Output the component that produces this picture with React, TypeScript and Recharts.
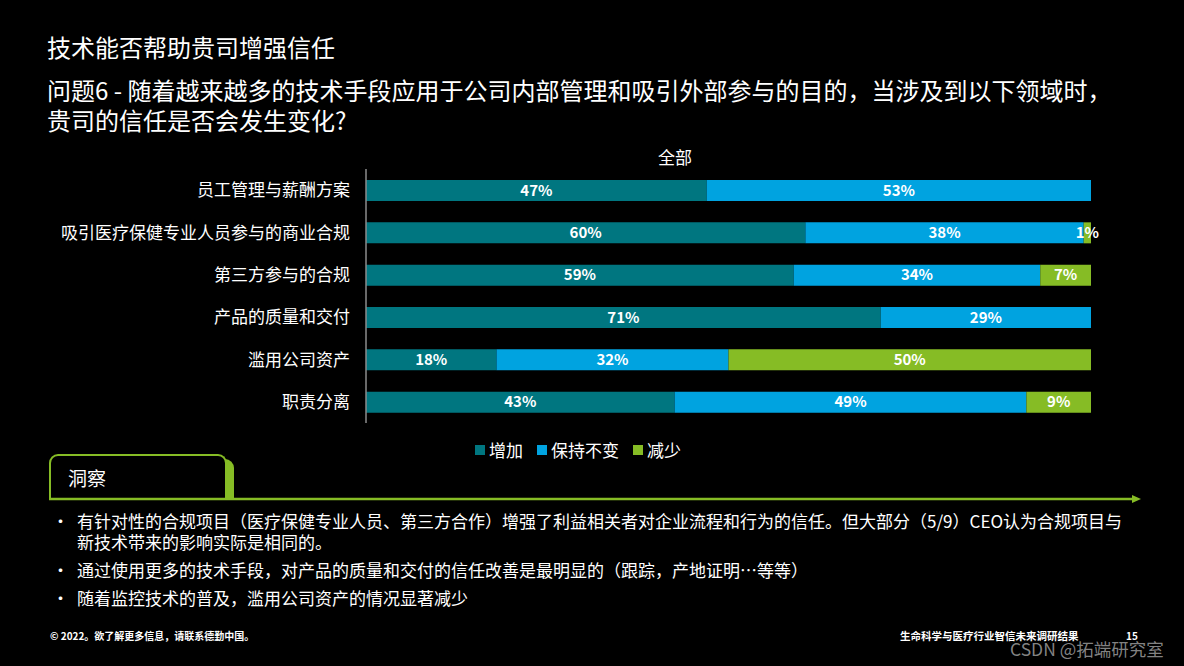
import React from 'react';
import { BarChart, Bar, XAxis, YAxis, LabelList } from 'recharts';

const categories = ['员工管理与薪酬方案', '吸引医疗保健专业人员参与的商业合规', '第三方参与的合规', '产品的质量和交付', '滥用公司资产', '职责分离'];
const increase = [47, 60, 59, 71, 18, 43];
const unchanged = [53, 38, 34, 29, 32, 49];
const decrease = [0, 1, 7, 0, 50, 9];

const seriesNames = ['增加', '保持不变', '减少'];
const colors = ['#007680', '#00A3E0', '#86BC25'];

const bullets = [
  '有针对性的合规项目（医疗保健专业人员、第三方合作）增强了利益相关者对企业流程和行为的信任。但大部分（5/9）CEO认为合规项目与新技术带来的影响实际是相同的。',
  '通过使用更多的技术手段，对产品的质量和交付的信任改善是最明显的（跟踪，产地证明…等等）',
  '随着监控技术的普及，滥用公司资产的情况显著减少',
];

const data = categories.map((name, i) => ({
  name,
  inc: increase[i],
  same: unchanged[i],
  dec: decrease[i],
}));

const font = '"Noto Sans CJK SC", "Noto Sans", sans-serif';
const pct = (v: any) => (v ? `${v}%` : '');

export default function App() {
  const labelStyle = { fill: '#fff', fontSize: 15, fontWeight: 600 };
  return (
    <div style={{ position: 'fixed', left: 0, top: 0, width: 1184, height: 666, background: '#000', color: '#fff', fontFamily: font, overflow: 'hidden' }}>
      <div style={{ position: 'absolute', left: 47, top: 32, fontSize: 24, lineHeight: '30px' }}>技术能否帮助贵司增强信任</div>
      <div style={{ position: 'absolute', left: 47, top: 75, fontSize: 24, lineHeight: '30px', width: 1120 }}>
        问题6 - 随着越来越多的技术手段应用于公司内部管理和吸引外部参与的目的，当涉及到以下领域时，<br />贵司的信任是否会发生变化?
      </div>
      <div style={{ position: 'absolute', left: 625, width: 100, textAlign: 'center', top: 145, fontSize: 17, lineHeight: '24px' }}>全部</div>

      <div style={{ position: 'absolute', left: 0, top: 1 }}>
        <BarChart width={1100} height={440} data={data} layout="vertical" stackOffset="expand" barSize={21}
          margin={{ top: 168, right: 9, bottom: 18, left: 0 }}>
          <XAxis type="number" hide domain={[0, 1]} />
          <YAxis type="category" dataKey="name" width={366} tickLine={false} tickSize={0} tickMargin={16}
            axisLine={{ stroke: '#8c8c8c', strokeWidth: 1.5 }}
            tick={{ fill: '#fff', fontSize: 17, fontFamily: font }} interval={0} />
          <Bar dataKey="inc" stackId="a" fill={colors[0]} isAnimationActive={false}>
            <LabelList dataKey="inc" position="center" formatter={pct} style={labelStyle} />
          </Bar>
          <Bar dataKey="same" stackId="a" fill={colors[1]} isAnimationActive={false}>
            <LabelList dataKey="same" position="center" formatter={pct} style={labelStyle} />
          </Bar>
          <Bar dataKey="dec" stackId="a" fill={colors[2]} isAnimationActive={false}>
            <LabelList dataKey="dec" position="center" formatter={pct} style={labelStyle} />
          </Bar>
        </BarChart>
      </div>

      <div style={{ position: 'absolute', left: 475, top: 439, display: 'flex', fontSize: 17, lineHeight: '22px' }}>
        {seriesNames.map((n, i) => (
          <div key={n} style={{ display: 'flex', alignItems: 'center', marginRight: 14 }}>
            <span style={{ width: 10, height: 10, background: colors[i], marginRight: 4 }} />
            <span>{n}</span>
          </div>
        ))}
      </div>

      {/* insight tab */}
      <div style={{ position: 'absolute', left: 56, top: 459, width: 178, height: 40, background: '#86BC25', borderTopLeftRadius: 9, borderTopRightRadius: 9 }} />
      <div style={{ position: 'absolute', left: 49, top: 454, width: 174, height: 42, background: '#000', border: '2px solid #86BC25', borderBottom: 'none', borderTopLeftRadius: 9, borderTopRightRadius: 9 }} />
      <div style={{ position: 'absolute', left: 68, top: 465, fontSize: 19, lineHeight: '26px' }}>洞察</div>
      <svg style={{ position: 'absolute', left: 0, top: 490 }} width={1184} height={20}>
        <line x1={49} y1={9} x2={1134} y2={9} stroke="#86BC25" strokeWidth={2.5} />
        <polygon points="1132,5 1141,9 1132,13" fill="#86BC25" />
      </svg>

      <div style={{ position: 'absolute', left: 52, top: 510, width: 1080, fontSize: 17, lineHeight: '21px' }}>
        {bullets.map((b, i) => (
          <div key={i} style={{ display: 'flex', marginBottom: 7 }}>
            <span style={{ width: 25, flexShrink: 0 }}>•</span>
            <span>{b}</span>
          </div>
        ))}
      </div>

      <div style={{ position: 'absolute', left: 50, top: 628, fontSize: 10, fontWeight: 700, lineHeight: '16px' }}>© 2022。欲了解更多信息，请联系德勤中国。</div>
      <div style={{ position: 'absolute', left: 900, top: 628, fontSize: 10.5, fontWeight: 700, lineHeight: '16px' }}>生命科学与医疗行业智信未来调研结果</div>
      <div style={{ position: 'absolute', left: 1126, top: 628, fontSize: 10, fontWeight: 700, lineHeight: '16px' }}>15</div>
      <div style={{ position: 'absolute', left: 1010, top: 637, fontSize: 17.5, lineHeight: '24px', color: 'rgba(190,190,190,0.7)' }}>CSDN @拓端研究室</div>
    </div>
  );
}
